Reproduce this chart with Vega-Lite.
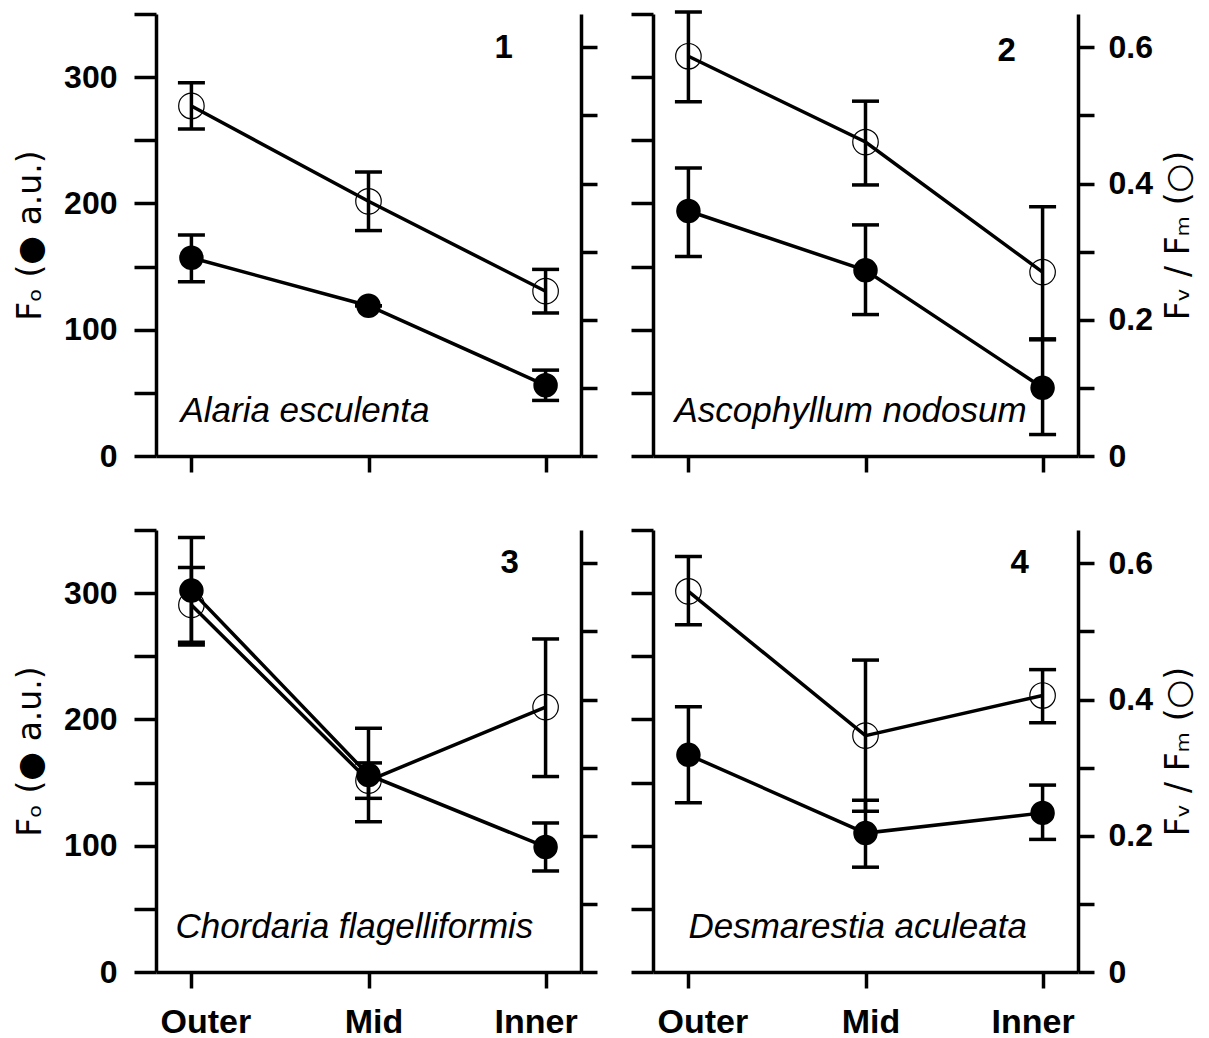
{
  "$schema": "https://vega.github.io/schema/vega-lite/v6.json",
  "padding": {"left": 14, "top": 10, "right": 5, "bottom": 0},
  "background": "white",
  "datasets": {
    "d": [
      {"panel": 1, "site": "Outer", "fo": 157, "fo_lo": 138, "fo_hi": 175, "fv": 0.514, "fv_lo": 0.480, "fv_hi": 0.548},
      {"panel": 1, "site": "Mid", "fo": 119, "fo_lo": 119, "fo_hi": 119, "fv": 0.374, "fv_lo": 0.331, "fv_hi": 0.417},
      {"panel": 1, "site": "Inner", "fo": 56, "fo_lo": 44, "fo_hi": 68, "fv": 0.242, "fv_lo": 0.210, "fv_hi": 0.274},
      {"panel": 2, "site": "Outer", "fo": 194, "fo_lo": 158, "fo_hi": 228, "fv": 0.587, "fv_lo": 0.520, "fv_hi": 0.652},
      {"panel": 2, "site": "Mid", "fo": 147, "fo_lo": 112, "fo_hi": 183, "fv": 0.461, "fv_lo": 0.398, "fv_hi": 0.521},
      {"panel": 2, "site": "Inner", "fo": 54, "fo_lo": 17, "fo_hi": 92, "fv": 0.270, "fv_lo": 0.172, "fv_hi": 0.366},
      {"panel": 3, "site": "Outer", "fo": 302, "fo_lo": 259, "fo_hi": 344, "fv": 0.539, "fv_lo": 0.484, "fv_hi": 0.594},
      {"panel": 3, "site": "Mid", "fo": 156, "fo_lo": 119, "fo_hi": 193, "fv": 0.281, "fv_lo": 0.255, "fv_hi": 0.307},
      {"panel": 3, "site": "Inner", "fo": 99, "fo_lo": 80, "fo_hi": 118, "fv": 0.389, "fv_lo": 0.287, "fv_hi": 0.489},
      {"panel": 4, "site": "Outer", "fo": 172, "fo_lo": 134, "fo_hi": 210, "fv": 0.559, "fv_lo": 0.510, "fv_hi": 0.610},
      {"panel": 4, "site": "Mid", "fo": 110, "fo_lo": 83, "fo_hi": 136, "fv": 0.347, "fv_lo": 0.236, "fv_hi": 0.458},
      {"panel": 4, "site": "Inner", "fo": 126, "fo_lo": 105, "fo_hi": 148, "fv": 0.406, "fv_lo": 0.366, "fv_hi": 0.444}
    ],
    "t": [
      {"panel": 1, "species": "Alaria esculenta", "num": "1"},
      {"panel": 2, "species": "Ascophyllum nodosum", "num": "2"},
      {"panel": 3, "species": "Chordaria flagelliformis", "num": "3"},
      {"panel": 4, "species": "Desmarestia aculeata", "num": "4"}
    ]
  },
  "columns": 2,
  "spacing": {"row": 74, "column": 72},
  "bounds": "flush",
  "concat": [
    {
      "width": 425, "height": 442,
      "data": {"name": "d"},
      "transform": [{"filter": "datum.panel == 1"}],
      "layer": [
        {"encoding": {"x": {"field": "site", "type": "nominal", "scale": {"type": "point", "domain": ["Outer", "Mid", "Inner"], "padding": 0.2}, "axis": {"labels": false, "title": null}}},
         "layer": [
          {"mark": {"type": "rule", "strokeWidth": 3.5, "color": "black"},
           "encoding": {"y": {"field": "fo_lo", "type": "quantitative", "scale": {"domain": [0, 350], "nice": false, "zero": false}, "axis": {"orient": "left", "values": [0, 50, 100, 150, 200, 250, 300, 350], "labelExpr": "datum.value % 100 == 0 ? datum.label : ''", "labelFontSize": {"condition": {"test": "datum.value % 100 != 0", "value": 0}, "value": 32}, "title": "Fₒ (● a.u.)"}}, "y2": {"field": "fo_hi"}}},
          {"mark": {"type": "tick", "thickness": 3.5, "size": 27, "color": "black", "opacity": 1},
           "encoding": {"y": {"field": "fo_lo", "type": "quantitative", "scale": {"domain": [0, 350], "nice": false, "zero": false}, "axis": {"orient": "left", "values": [0, 50, 100, 150, 200, 250, 300, 350], "labelExpr": "datum.value % 100 == 0 ? datum.label : ''", "labelFontSize": {"condition": {"test": "datum.value % 100 != 0", "value": 0}, "value": 32}, "title": "Fₒ (● a.u.)"}}}},
          {"mark": {"type": "tick", "thickness": 3.5, "size": 27, "color": "black", "opacity": 1},
           "encoding": {"y": {"field": "fo_hi", "type": "quantitative", "scale": {"domain": [0, 350], "nice": false, "zero": false}, "axis": {"orient": "left", "values": [0, 50, 100, 150, 200, 250, 300, 350], "labelExpr": "datum.value % 100 == 0 ? datum.label : ''", "labelFontSize": {"condition": {"test": "datum.value % 100 != 0", "value": 0}, "value": 32}, "title": "Fₒ (● a.u.)"}}}},
          {"mark": {"type": "line", "strokeWidth": 3.5, "color": "black"},
           "encoding": {"y": {"field": "fo", "type": "quantitative", "scale": {"domain": [0, 350], "nice": false, "zero": false}, "axis": {"orient": "left", "values": [0, 50, 100, 150, 200, 250, 300, 350], "labelExpr": "datum.value % 100 == 0 ? datum.label : ''", "labelFontSize": {"condition": {"test": "datum.value % 100 != 0", "value": 0}, "value": 32}, "title": "Fₒ (● a.u.)"}}}},
          {"mark": {"type": "circle", "size": 600, "color": "black", "opacity": 1},
           "encoding": {"y": {"field": "fo", "type": "quantitative", "scale": {"domain": [0, 350], "nice": false, "zero": false}, "axis": {"orient": "left", "values": [0, 50, 100, 150, 200, 250, 300, 350], "labelExpr": "datum.value % 100 == 0 ? datum.label : ''", "labelFontSize": {"condition": {"test": "datum.value % 100 != 0", "value": 0}, "value": 32}, "title": "Fₒ (● a.u.)"}}}},
          {"data": {"name": "t"}, "transform": [{"filter": "datum.panel == 1"}],
           "mark": {"type": "text", "font": "Liberation Sans", "fontStyle": "italic", "fontSize": 35, "align": "left", "baseline": "middle", "dx": -11, "color": "black"},
           "encoding": {
             "x": {"datum": "Outer", "type": "nominal", "scale": {"type": "point", "domain": ["Outer", "Mid", "Inner"], "padding": 0.2}, "axis": {"labels": false, "title": null}},
             "y": {"datum": 36, "type": "quantitative", "scale": {"domain": [0, 350], "nice": false, "zero": false}, "axis": {"orient": "left", "values": [0, 50, 100, 150, 200, 250, 300, 350], "labelExpr": "datum.value % 100 == 0 ? datum.label : ''", "labelFontSize": {"condition": {"test": "datum.value % 100 != 0", "value": 0}, "value": 32}, "title": "Fₒ (● a.u.)"}},
             "text": {"field": "species"}}},
          {"data": {"name": "t"}, "transform": [{"filter": "datum.panel == 1"}],
           "mark": {"type": "text", "font": "Liberation Sans", "fontWeight": "bold", "fontSize": 33, "align": "center", "baseline": "middle", "dx": -42, "color": "black"},
           "encoding": {
             "x": {"datum": "Inner", "type": "nominal", "scale": {"type": "point", "domain": ["Outer", "Mid", "Inner"], "padding": 0.2}, "axis": {"labels": false, "title": null}},
             "y": {"datum": 323, "type": "quantitative", "scale": {"domain": [0, 350], "nice": false, "zero": false}, "axis": {"orient": "left", "values": [0, 50, 100, 150, 200, 250, 300, 350], "labelExpr": "datum.value % 100 == 0 ? datum.label : ''", "labelFontSize": {"condition": {"test": "datum.value % 100 != 0", "value": 0}, "value": 32}, "title": "Fₒ (● a.u.)"}},
             "text": {"field": "num"}}}
        ]},
        {"encoding": {"x": {"field": "site", "type": "nominal", "scale": {"type": "point", "domain": ["Outer", "Mid", "Inner"], "padding": 0.2}, "axis": {"labels": false, "title": null}}},
         "layer": [
          {"mark": {"type": "rule", "strokeWidth": 3.5, "color": "black"},
           "encoding": {"y": {"field": "fv_lo", "type": "quantitative", "scale": {"domain": [0, 0.649], "nice": false, "zero": false}, "axis": {"orient": "right", "values": [0, 0.1, 0.2, 0.3, 0.4, 0.5, 0.6], "labels": false, "title": null}}, "y2": {"field": "fv_hi"}}},
          {"mark": {"type": "tick", "thickness": 3.5, "size": 27, "color": "black", "opacity": 1},
           "encoding": {"y": {"field": "fv_lo", "type": "quantitative", "scale": {"domain": [0, 0.649], "nice": false, "zero": false}, "axis": {"orient": "right", "values": [0, 0.1, 0.2, 0.3, 0.4, 0.5, 0.6], "labels": false, "title": null}}}},
          {"mark": {"type": "tick", "thickness": 3.5, "size": 27, "color": "black", "opacity": 1},
           "encoding": {"y": {"field": "fv_hi", "type": "quantitative", "scale": {"domain": [0, 0.649], "nice": false, "zero": false}, "axis": {"orient": "right", "values": [0, 0.1, 0.2, 0.3, 0.4, 0.5, 0.6], "labels": false, "title": null}}}},
          {"mark": {"type": "line", "strokeWidth": 3.5, "color": "black"},
           "encoding": {"y": {"field": "fv", "type": "quantitative", "scale": {"domain": [0, 0.649], "nice": false, "zero": false}, "axis": {"orient": "right", "values": [0, 0.1, 0.2, 0.3, 0.4, 0.5, 0.6], "labels": false, "title": null}}}},
          {"mark": {"type": "point", "shape": "circle", "filled": false, "size": 650, "color": "black", "strokeWidth": 1.2, "opacity": 1},
           "encoding": {"y": {"field": "fv", "type": "quantitative", "scale": {"domain": [0, 0.649], "nice": false, "zero": false}, "axis": {"orient": "right", "values": [0, 0.1, 0.2, 0.3, 0.4, 0.5, 0.6], "labels": false, "title": null}}}}
        ]}
      ],
      "resolve": {"scale": {"y": "independent"}}
    },
    {
      "width": 425, "height": 442,
      "data": {"name": "d"},
      "transform": [{"filter": "datum.panel == 2"}],
      "layer": [
        {"encoding": {"x": {"field": "site", "type": "nominal", "scale": {"type": "point", "domain": ["Outer", "Mid", "Inner"], "padding": 0.2}, "axis": {"labels": false, "title": null}}},
         "layer": [
          {"mark": {"type": "rule", "strokeWidth": 3.5, "color": "black"},
           "encoding": {"y": {"field": "fo_lo", "type": "quantitative", "scale": {"domain": [0, 350], "nice": false, "zero": false}, "axis": {"orient": "left", "values": [0, 50, 100, 150, 200, 250, 300, 350], "labels": false, "title": null}}, "y2": {"field": "fo_hi"}}},
          {"mark": {"type": "tick", "thickness": 3.5, "size": 27, "color": "black", "opacity": 1},
           "encoding": {"y": {"field": "fo_lo", "type": "quantitative", "scale": {"domain": [0, 350], "nice": false, "zero": false}, "axis": {"orient": "left", "values": [0, 50, 100, 150, 200, 250, 300, 350], "labels": false, "title": null}}}},
          {"mark": {"type": "tick", "thickness": 3.5, "size": 27, "color": "black", "opacity": 1},
           "encoding": {"y": {"field": "fo_hi", "type": "quantitative", "scale": {"domain": [0, 350], "nice": false, "zero": false}, "axis": {"orient": "left", "values": [0, 50, 100, 150, 200, 250, 300, 350], "labels": false, "title": null}}}},
          {"mark": {"type": "line", "strokeWidth": 3.5, "color": "black"},
           "encoding": {"y": {"field": "fo", "type": "quantitative", "scale": {"domain": [0, 350], "nice": false, "zero": false}, "axis": {"orient": "left", "values": [0, 50, 100, 150, 200, 250, 300, 350], "labels": false, "title": null}}}},
          {"mark": {"type": "circle", "size": 600, "color": "black", "opacity": 1},
           "encoding": {"y": {"field": "fo", "type": "quantitative", "scale": {"domain": [0, 350], "nice": false, "zero": false}, "axis": {"orient": "left", "values": [0, 50, 100, 150, 200, 250, 300, 350], "labels": false, "title": null}}}},
          {"data": {"name": "t"}, "transform": [{"filter": "datum.panel == 2"}],
           "mark": {"type": "text", "font": "Liberation Sans", "fontStyle": "italic", "fontSize": 35, "align": "left", "baseline": "middle", "dx": -14, "color": "black"},
           "encoding": {
             "x": {"datum": "Outer", "type": "nominal", "scale": {"type": "point", "domain": ["Outer", "Mid", "Inner"], "padding": 0.2}, "axis": {"labels": false, "title": null}},
             "y": {"datum": 36, "type": "quantitative", "scale": {"domain": [0, 350], "nice": false, "zero": false}, "axis": {"orient": "left", "values": [0, 50, 100, 150, 200, 250, 300, 350], "labels": false, "title": null}},
             "text": {"field": "species"}}},
          {"data": {"name": "t"}, "transform": [{"filter": "datum.panel == 2"}],
           "mark": {"type": "text", "font": "Liberation Sans", "fontWeight": "bold", "fontSize": 33, "align": "center", "baseline": "middle", "dx": -36, "color": "black"},
           "encoding": {
             "x": {"datum": "Inner", "type": "nominal", "scale": {"type": "point", "domain": ["Outer", "Mid", "Inner"], "padding": 0.2}, "axis": {"labels": false, "title": null}},
             "y": {"datum": 321, "type": "quantitative", "scale": {"domain": [0, 350], "nice": false, "zero": false}, "axis": {"orient": "left", "values": [0, 50, 100, 150, 200, 250, 300, 350], "labels": false, "title": null}},
             "text": {"field": "num"}}}
        ]},
        {"encoding": {"x": {"field": "site", "type": "nominal", "scale": {"type": "point", "domain": ["Outer", "Mid", "Inner"], "padding": 0.2}, "axis": {"labels": false, "title": null}}},
         "layer": [
          {"mark": {"type": "rule", "strokeWidth": 3.5, "color": "black"},
           "encoding": {"y": {"field": "fv_lo", "type": "quantitative", "scale": {"domain": [0, 0.649], "nice": false, "zero": false}, "axis": {"orient": "right", "values": [0, 0.1, 0.2, 0.3, 0.4, 0.5, 0.6], "labelExpr": "datum.value < 0.001 ? '0' : (round(datum.value * 10) % 2 == 0 ? format(datum.value, '.1f') : '')", "title": "Fᵥ / Fₘ (○)"}}, "y2": {"field": "fv_hi"}}},
          {"mark": {"type": "tick", "thickness": 3.5, "size": 27, "color": "black", "opacity": 1},
           "encoding": {"y": {"field": "fv_lo", "type": "quantitative", "scale": {"domain": [0, 0.649], "nice": false, "zero": false}, "axis": {"orient": "right", "values": [0, 0.1, 0.2, 0.3, 0.4, 0.5, 0.6], "labelExpr": "datum.value < 0.001 ? '0' : (round(datum.value * 10) % 2 == 0 ? format(datum.value, '.1f') : '')", "title": "Fᵥ / Fₘ (○)"}}}},
          {"mark": {"type": "tick", "thickness": 3.5, "size": 27, "color": "black", "opacity": 1},
           "encoding": {"y": {"field": "fv_hi", "type": "quantitative", "scale": {"domain": [0, 0.649], "nice": false, "zero": false}, "axis": {"orient": "right", "values": [0, 0.1, 0.2, 0.3, 0.4, 0.5, 0.6], "labelExpr": "datum.value < 0.001 ? '0' : (round(datum.value * 10) % 2 == 0 ? format(datum.value, '.1f') : '')", "title": "Fᵥ / Fₘ (○)"}}}},
          {"mark": {"type": "line", "strokeWidth": 3.5, "color": "black"},
           "encoding": {"y": {"field": "fv", "type": "quantitative", "scale": {"domain": [0, 0.649], "nice": false, "zero": false}, "axis": {"orient": "right", "values": [0, 0.1, 0.2, 0.3, 0.4, 0.5, 0.6], "labelExpr": "datum.value < 0.001 ? '0' : (round(datum.value * 10) % 2 == 0 ? format(datum.value, '.1f') : '')", "title": "Fᵥ / Fₘ (○)"}}}},
          {"mark": {"type": "point", "shape": "circle", "filled": false, "size": 650, "color": "black", "strokeWidth": 1.2, "opacity": 1},
           "encoding": {"y": {"field": "fv", "type": "quantitative", "scale": {"domain": [0, 0.649], "nice": false, "zero": false}, "axis": {"orient": "right", "values": [0, 0.1, 0.2, 0.3, 0.4, 0.5, 0.6], "labelExpr": "datum.value < 0.001 ? '0' : (round(datum.value * 10) % 2 == 0 ? format(datum.value, '.1f') : '')", "title": "Fᵥ / Fₘ (○)"}}}}
        ]}
      ],
      "resolve": {"scale": {"y": "independent"}}
    },
    {
      "width": 425, "height": 442,
      "data": {"name": "d"},
      "transform": [{"filter": "datum.panel == 3"}],
      "layer": [
        {"encoding": {"x": {"field": "site", "type": "nominal", "scale": {"type": "point", "domain": ["Outer", "Mid", "Inner"], "padding": 0.2}, "axis": {"title": null, "labelOffset": {"condition": [{"test": "datum.value == 'Outer'", "value": 14}, {"test": "datum.value == 'Inner'", "value": -10}], "value": 5}}}},
         "layer": [
          {"mark": {"type": "rule", "strokeWidth": 3.5, "color": "black"},
           "encoding": {"y": {"field": "fo_lo", "type": "quantitative", "scale": {"domain": [0, 350], "nice": false, "zero": false}, "axis": {"orient": "left", "values": [0, 50, 100, 150, 200, 250, 300, 350], "labelExpr": "datum.value % 100 == 0 ? datum.label : ''", "labelFontSize": {"condition": {"test": "datum.value % 100 != 0", "value": 0}, "value": 32}, "title": "Fₒ (● a.u.)"}}, "y2": {"field": "fo_hi"}}},
          {"mark": {"type": "tick", "thickness": 3.5, "size": 27, "color": "black", "opacity": 1},
           "encoding": {"y": {"field": "fo_lo", "type": "quantitative", "scale": {"domain": [0, 350], "nice": false, "zero": false}, "axis": {"orient": "left", "values": [0, 50, 100, 150, 200, 250, 300, 350], "labelExpr": "datum.value % 100 == 0 ? datum.label : ''", "labelFontSize": {"condition": {"test": "datum.value % 100 != 0", "value": 0}, "value": 32}, "title": "Fₒ (● a.u.)"}}}},
          {"mark": {"type": "tick", "thickness": 3.5, "size": 27, "color": "black", "opacity": 1},
           "encoding": {"y": {"field": "fo_hi", "type": "quantitative", "scale": {"domain": [0, 350], "nice": false, "zero": false}, "axis": {"orient": "left", "values": [0, 50, 100, 150, 200, 250, 300, 350], "labelExpr": "datum.value % 100 == 0 ? datum.label : ''", "labelFontSize": {"condition": {"test": "datum.value % 100 != 0", "value": 0}, "value": 32}, "title": "Fₒ (● a.u.)"}}}},
          {"mark": {"type": "line", "strokeWidth": 3.5, "color": "black"},
           "encoding": {"y": {"field": "fo", "type": "quantitative", "scale": {"domain": [0, 350], "nice": false, "zero": false}, "axis": {"orient": "left", "values": [0, 50, 100, 150, 200, 250, 300, 350], "labelExpr": "datum.value % 100 == 0 ? datum.label : ''", "labelFontSize": {"condition": {"test": "datum.value % 100 != 0", "value": 0}, "value": 32}, "title": "Fₒ (● a.u.)"}}}},
          {"mark": {"type": "circle", "size": 600, "color": "black", "opacity": 1},
           "encoding": {"y": {"field": "fo", "type": "quantitative", "scale": {"domain": [0, 350], "nice": false, "zero": false}, "axis": {"orient": "left", "values": [0, 50, 100, 150, 200, 250, 300, 350], "labelExpr": "datum.value % 100 == 0 ? datum.label : ''", "labelFontSize": {"condition": {"test": "datum.value % 100 != 0", "value": 0}, "value": 32}, "title": "Fₒ (● a.u.)"}}}},
          {"data": {"name": "t"}, "transform": [{"filter": "datum.panel == 3"}],
           "mark": {"type": "text", "font": "Liberation Sans", "fontStyle": "italic", "fontSize": 35, "align": "left", "baseline": "middle", "dx": -16, "color": "black"},
           "encoding": {
             "x": {"datum": "Outer", "type": "nominal", "scale": {"type": "point", "domain": ["Outer", "Mid", "Inner"], "padding": 0.2}, "axis": {"title": null, "labelOffset": {"condition": [{"test": "datum.value == 'Outer'", "value": 14}, {"test": "datum.value == 'Inner'", "value": -10}], "value": 5}}},
             "y": {"datum": 36, "type": "quantitative", "scale": {"domain": [0, 350], "nice": false, "zero": false}, "axis": {"orient": "left", "values": [0, 50, 100, 150, 200, 250, 300, 350], "labelExpr": "datum.value % 100 == 0 ? datum.label : ''", "labelFontSize": {"condition": {"test": "datum.value % 100 != 0", "value": 0}, "value": 32}, "title": "Fₒ (● a.u.)"}},
             "text": {"field": "species"}}},
          {"data": {"name": "t"}, "transform": [{"filter": "datum.panel == 3"}],
           "mark": {"type": "text", "font": "Liberation Sans", "fontWeight": "bold", "fontSize": 33, "align": "center", "baseline": "middle", "dx": -36, "color": "black"},
           "encoding": {
             "x": {"datum": "Inner", "type": "nominal", "scale": {"type": "point", "domain": ["Outer", "Mid", "Inner"], "padding": 0.2}, "axis": {"title": null, "labelOffset": {"condition": [{"test": "datum.value == 'Outer'", "value": 14}, {"test": "datum.value == 'Inner'", "value": -10}], "value": 5}}},
             "y": {"datum": 324, "type": "quantitative", "scale": {"domain": [0, 350], "nice": false, "zero": false}, "axis": {"orient": "left", "values": [0, 50, 100, 150, 200, 250, 300, 350], "labelExpr": "datum.value % 100 == 0 ? datum.label : ''", "labelFontSize": {"condition": {"test": "datum.value % 100 != 0", "value": 0}, "value": 32}, "title": "Fₒ (● a.u.)"}},
             "text": {"field": "num"}}}
        ]},
        {"encoding": {"x": {"field": "site", "type": "nominal", "scale": {"type": "point", "domain": ["Outer", "Mid", "Inner"], "padding": 0.2}, "axis": {"title": null, "labelOffset": {"condition": [{"test": "datum.value == 'Outer'", "value": 14}, {"test": "datum.value == 'Inner'", "value": -10}], "value": 5}}}},
         "layer": [
          {"mark": {"type": "rule", "strokeWidth": 3.5, "color": "black"},
           "encoding": {"y": {"field": "fv_lo", "type": "quantitative", "scale": {"domain": [0, 0.649], "nice": false, "zero": false}, "axis": {"orient": "right", "values": [0, 0.1, 0.2, 0.3, 0.4, 0.5, 0.6], "labels": false, "title": null}}, "y2": {"field": "fv_hi"}}},
          {"mark": {"type": "tick", "thickness": 3.5, "size": 27, "color": "black", "opacity": 1},
           "encoding": {"y": {"field": "fv_lo", "type": "quantitative", "scale": {"domain": [0, 0.649], "nice": false, "zero": false}, "axis": {"orient": "right", "values": [0, 0.1, 0.2, 0.3, 0.4, 0.5, 0.6], "labels": false, "title": null}}}},
          {"mark": {"type": "tick", "thickness": 3.5, "size": 27, "color": "black", "opacity": 1},
           "encoding": {"y": {"field": "fv_hi", "type": "quantitative", "scale": {"domain": [0, 0.649], "nice": false, "zero": false}, "axis": {"orient": "right", "values": [0, 0.1, 0.2, 0.3, 0.4, 0.5, 0.6], "labels": false, "title": null}}}},
          {"mark": {"type": "line", "strokeWidth": 3.5, "color": "black"},
           "encoding": {"y": {"field": "fv", "type": "quantitative", "scale": {"domain": [0, 0.649], "nice": false, "zero": false}, "axis": {"orient": "right", "values": [0, 0.1, 0.2, 0.3, 0.4, 0.5, 0.6], "labels": false, "title": null}}}},
          {"mark": {"type": "point", "shape": "circle", "filled": false, "size": 650, "color": "black", "strokeWidth": 1.2, "opacity": 1},
           "encoding": {"y": {"field": "fv", "type": "quantitative", "scale": {"domain": [0, 0.649], "nice": false, "zero": false}, "axis": {"orient": "right", "values": [0, 0.1, 0.2, 0.3, 0.4, 0.5, 0.6], "labels": false, "title": null}}}}
        ]}
      ],
      "resolve": {"scale": {"y": "independent"}}
    },
    {
      "width": 425, "height": 442,
      "data": {"name": "d"},
      "transform": [{"filter": "datum.panel == 4"}],
      "layer": [
        {"encoding": {"x": {"field": "site", "type": "nominal", "scale": {"type": "point", "domain": ["Outer", "Mid", "Inner"], "padding": 0.2}, "axis": {"title": null, "labelOffset": {"condition": [{"test": "datum.value == 'Outer'", "value": 14}, {"test": "datum.value == 'Inner'", "value": -10}], "value": 5}}}},
         "layer": [
          {"mark": {"type": "rule", "strokeWidth": 3.5, "color": "black"},
           "encoding": {"y": {"field": "fo_lo", "type": "quantitative", "scale": {"domain": [0, 350], "nice": false, "zero": false}, "axis": {"orient": "left", "values": [0, 50, 100, 150, 200, 250, 300, 350], "labels": false, "title": null}}, "y2": {"field": "fo_hi"}}},
          {"mark": {"type": "tick", "thickness": 3.5, "size": 27, "color": "black", "opacity": 1},
           "encoding": {"y": {"field": "fo_lo", "type": "quantitative", "scale": {"domain": [0, 350], "nice": false, "zero": false}, "axis": {"orient": "left", "values": [0, 50, 100, 150, 200, 250, 300, 350], "labels": false, "title": null}}}},
          {"mark": {"type": "tick", "thickness": 3.5, "size": 27, "color": "black", "opacity": 1},
           "encoding": {"y": {"field": "fo_hi", "type": "quantitative", "scale": {"domain": [0, 350], "nice": false, "zero": false}, "axis": {"orient": "left", "values": [0, 50, 100, 150, 200, 250, 300, 350], "labels": false, "title": null}}}},
          {"mark": {"type": "line", "strokeWidth": 3.5, "color": "black"},
           "encoding": {"y": {"field": "fo", "type": "quantitative", "scale": {"domain": [0, 350], "nice": false, "zero": false}, "axis": {"orient": "left", "values": [0, 50, 100, 150, 200, 250, 300, 350], "labels": false, "title": null}}}},
          {"mark": {"type": "circle", "size": 600, "color": "black", "opacity": 1},
           "encoding": {"y": {"field": "fo", "type": "quantitative", "scale": {"domain": [0, 350], "nice": false, "zero": false}, "axis": {"orient": "left", "values": [0, 50, 100, 150, 200, 250, 300, 350], "labels": false, "title": null}}}},
          {"data": {"name": "t"}, "transform": [{"filter": "datum.panel == 4"}],
           "mark": {"type": "text", "font": "Liberation Sans", "fontStyle": "italic", "fontSize": 35, "align": "left", "baseline": "middle", "dx": 0, "color": "black"},
           "encoding": {
             "x": {"datum": "Outer", "type": "nominal", "scale": {"type": "point", "domain": ["Outer", "Mid", "Inner"], "padding": 0.2}, "axis": {"title": null, "labelOffset": {"condition": [{"test": "datum.value == 'Outer'", "value": 14}, {"test": "datum.value == 'Inner'", "value": -10}], "value": 5}}},
             "y": {"datum": 36, "type": "quantitative", "scale": {"domain": [0, 350], "nice": false, "zero": false}, "axis": {"orient": "left", "values": [0, 50, 100, 150, 200, 250, 300, 350], "labels": false, "title": null}},
             "text": {"field": "species"}}},
          {"data": {"name": "t"}, "transform": [{"filter": "datum.panel == 4"}],
           "mark": {"type": "text", "font": "Liberation Sans", "fontWeight": "bold", "fontSize": 33, "align": "center", "baseline": "middle", "dx": -23, "color": "black"},
           "encoding": {
             "x": {"datum": "Inner", "type": "nominal", "scale": {"type": "point", "domain": ["Outer", "Mid", "Inner"], "padding": 0.2}, "axis": {"title": null, "labelOffset": {"condition": [{"test": "datum.value == 'Outer'", "value": 14}, {"test": "datum.value == 'Inner'", "value": -10}], "value": 5}}},
             "y": {"datum": 324, "type": "quantitative", "scale": {"domain": [0, 350], "nice": false, "zero": false}, "axis": {"orient": "left", "values": [0, 50, 100, 150, 200, 250, 300, 350], "labels": false, "title": null}},
             "text": {"field": "num"}}}
        ]},
        {"encoding": {"x": {"field": "site", "type": "nominal", "scale": {"type": "point", "domain": ["Outer", "Mid", "Inner"], "padding": 0.2}, "axis": {"title": null, "labelOffset": {"condition": [{"test": "datum.value == 'Outer'", "value": 14}, {"test": "datum.value == 'Inner'", "value": -10}], "value": 5}}}},
         "layer": [
          {"mark": {"type": "rule", "strokeWidth": 3.5, "color": "black"},
           "encoding": {"y": {"field": "fv_lo", "type": "quantitative", "scale": {"domain": [0, 0.649], "nice": false, "zero": false}, "axis": {"orient": "right", "values": [0, 0.1, 0.2, 0.3, 0.4, 0.5, 0.6], "labelExpr": "datum.value < 0.001 ? '0' : (round(datum.value * 10) % 2 == 0 ? format(datum.value, '.1f') : '')", "title": "Fᵥ / Fₘ (○)"}}, "y2": {"field": "fv_hi"}}},
          {"mark": {"type": "tick", "thickness": 3.5, "size": 27, "color": "black", "opacity": 1},
           "encoding": {"y": {"field": "fv_lo", "type": "quantitative", "scale": {"domain": [0, 0.649], "nice": false, "zero": false}, "axis": {"orient": "right", "values": [0, 0.1, 0.2, 0.3, 0.4, 0.5, 0.6], "labelExpr": "datum.value < 0.001 ? '0' : (round(datum.value * 10) % 2 == 0 ? format(datum.value, '.1f') : '')", "title": "Fᵥ / Fₘ (○)"}}}},
          {"mark": {"type": "tick", "thickness": 3.5, "size": 27, "color": "black", "opacity": 1},
           "encoding": {"y": {"field": "fv_hi", "type": "quantitative", "scale": {"domain": [0, 0.649], "nice": false, "zero": false}, "axis": {"orient": "right", "values": [0, 0.1, 0.2, 0.3, 0.4, 0.5, 0.6], "labelExpr": "datum.value < 0.001 ? '0' : (round(datum.value * 10) % 2 == 0 ? format(datum.value, '.1f') : '')", "title": "Fᵥ / Fₘ (○)"}}}},
          {"mark": {"type": "line", "strokeWidth": 3.5, "color": "black"},
           "encoding": {"y": {"field": "fv", "type": "quantitative", "scale": {"domain": [0, 0.649], "nice": false, "zero": false}, "axis": {"orient": "right", "values": [0, 0.1, 0.2, 0.3, 0.4, 0.5, 0.6], "labelExpr": "datum.value < 0.001 ? '0' : (round(datum.value * 10) % 2 == 0 ? format(datum.value, '.1f') : '')", "title": "Fᵥ / Fₘ (○)"}}}},
          {"mark": {"type": "point", "shape": "circle", "filled": false, "size": 650, "color": "black", "strokeWidth": 1.2, "opacity": 1},
           "encoding": {"y": {"field": "fv", "type": "quantitative", "scale": {"domain": [0, 0.649], "nice": false, "zero": false}, "axis": {"orient": "right", "values": [0, 0.1, 0.2, 0.3, 0.4, 0.5, 0.6], "labelExpr": "datum.value < 0.001 ? '0' : (round(datum.value * 10) % 2 == 0 ? format(datum.value, '.1f') : '')", "title": "Fᵥ / Fₘ (○)"}}}}
        ]}
      ],
      "resolve": {"scale": {"y": "independent"}}
    }
  ],
  "config": {
    "view": {"stroke": null},
    "font": "Liberation Sans",
    "axis": {
      "domainColor": "black", "domainWidth": 3.5, "tickColor": "black", "tickWidth": 3.5,
      "labelColor": "black", "labelFont": "Liberation Sans", "labelFontSize": 32, "labelFontWeight": "bold",
      "titleFont": "DejaVu Sans", "titleFontSize": 33, "titleFontWeight": "normal", "titleColor": "black",
      "grid": false, "labelOverlap": false
    },
    "axisX": {"tickSize": 16, "labelPadding": 17, "labelAngle": 0, "labelFontSize": 34},
    "axisLeft": {"tickSize": 22, "labelPadding": 17, "titlePadding": 16},
    "axisRight": {"tickSize": 16, "labelPadding": 14, "titlePadding": 10, "titleAngle": 270, "titleBaseline": "top"}
  }
}
